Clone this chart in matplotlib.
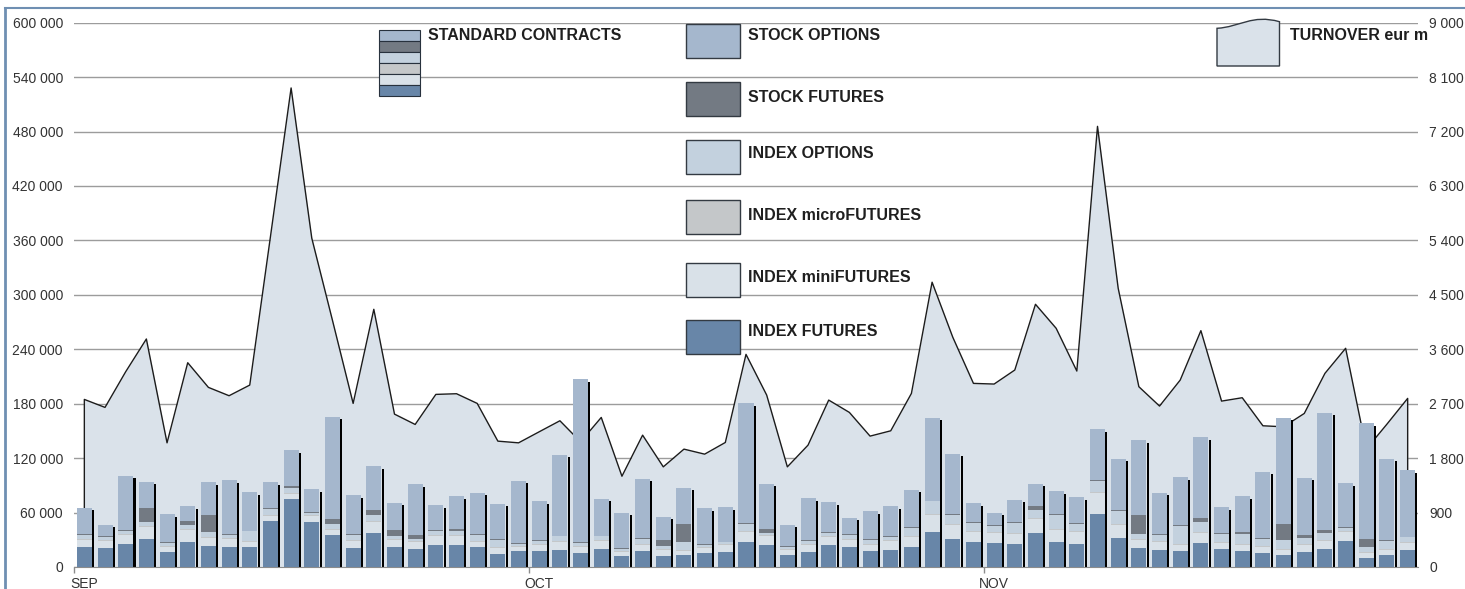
import matplotlib
matplotlib.use("Agg")
import matplotlib.pyplot as plt
import numpy as np
from matplotlib.patches import Rectangle, PathPatch
from matplotlib.path import Path
from matplotlib.ticker import FuncFormatter

plt.rcParams["font.family"] = ["Liberation Sans", "DejaVu Sans"]

# daily contracts, thousands (Sep-Nov, 65 trading days)
months = ["SEP", "OCT", "NOV"]
month_start = [0, 22, 44]

idx_fut = [22.1, 21.3, 25.8, 31.3, 16.2, 28.0, 23.2, 21.7, 21.7, 50.4, 75.5,
           49.7, 35.0, 21.0, 37.5, 21.7, 19.5, 23.9, 23.9, 22.1, 14.7,
           17.3, 17.3, 18.4, 15.5, 19.5, 11.8, 17.3, 11.8, 12.9, 15.5, 16.9,
           27.6, 24.7, 13.6, 16.6, 23.9, 22.1, 17.3, 19.1, 22.1, 38.6, 31.3,
           27.2, 26.5, 25.0, 37.5, 28.0, 25.8, 58.1, 32.4, 21.0, 18.4,
           17.3, 26.5, 20.2, 17.7, 15.5, 13.6, 16.6, 20.2, 28.3, 10.3, 13.6, 18.4]
idx_mini = [8.0, 7.7, 9.9, 12.5, 5.9, 12.9, 8.8, 8.8, 5.5, 5.5, 5.2,
            6.6, 6.3, 8.1, 12.1, 8.5, 8.1, 10.7, 10.7, 5.2, 6.3,
            4.8, 7.4, 8.8, 6.3, 8.8, 4.8, 6.6, 7.4, 5.2, 5.5, 7.0,
            11.0, 9.2, 5.5, 8.1, 8.8, 8.1, 7.4, 9.2, 10.7, 19.1, 14.7,
            11.4, 11.0, 11.4, 15.8, 12.5, 12.9, 23.6, 13.6, 9.2, 8.8,
            7.4, 11.0, 6.3, 6.3, 6.3, 5.5, 8.1, 8.8, 10.3, 5.2, 5.5, 7.7]
idx_micro = [1.0, 1.0, 1.0, 1.0, 1.0, 1.0, 1.0, 1.0, 1.0, 1.0, 1.0,
             0.8, 1.0, 1.0, 1.0, 1.0, 1.0, 1.0, 1.0, 1.0, 1.0,
             0.8, 1.0, 1.0, 1.0, 1.0, 1.0, 1.0, 1.0, 1.0, 1.0, 1.0,
             1.0, 1.0, 1.0, 1.0, 1.0, 1.0, 1.0, 1.0, 1.0, 1.0, 1.0,
             1.0, 1.0, 1.0, 1.0, 1.0, 1.0, 1.0, 1.0, 1.0, 1.0,
             1.0, 1.0, 1.0, 1.0, 1.0, 1.0, 1.0, 1.0, 1.0, 1.0, 1.0, 1.0]
idx_opt = [4.4, 3.3, 3.3, 4.8, 3.3, 4.4, 5.5, 4.0, 11.0, 6.6, 5.2,
           2.0, 4.8, 5.5, 6.3, 3.3, 2.6, 4.0, 4.0, 7.4, 8.1,
           2.6, 3.3, 5.5, 3.3, 4.4, 2.2, 6.3, 2.9, 8.5, 2.6, 2.2,
           7.7, 2.9, 1.5, 2.6, 3.7, 3.7, 4.4, 3.7, 9.2, 13.6, 10.7,
           8.8, 6.3, 11.0, 8.1, 16.2, 7.7, 11.8, 14.4, 5.5, 7.4,
           19.1, 11.0, 8.8, 11.8, 8.1, 9.9, 6.6, 7.7, 3.3, 5.5, 8.8, 5.5]
stk_fut = [1.0, 1.0, 1.0, 15.8, 1.0, 4.0, 19.1, 1.0, 1.0, 1.0, 2.2,
           1.1, 6.3, 1.0, 5.5, 5.9, 3.7, 1.5, 2.6, 1.0, 1.0,
           1.0, 1.0, 1.0, 1.0, 1.0, 1.0, 1.0, 6.3, 20.2, 1.0, 1.0,
           1.0, 4.4, 1.0, 1.0, 1.0, 1.0, 1.0, 1.0, 1.0, 1.0, 1.0,
           1.0, 1.0, 1.0, 4.4, 1.0, 1.0, 1.0, 1.0, 20.2, 1.0,
           1.0, 4.4, 1.0, 1.8, 1.0, 17.7, 2.6, 3.3, 1.0, 8.5, 1.0, 1.0]
stk_opt = [28.7, 12.1, 59.6, 28.7, 30.9, 16.6, 35.7, 58.9, 42.3, 29.0, 39.8,
           25.8, 112.2, 42.3, 48.9, 30.2, 56.3, 26.9, 35.7, 45.3, 38.6,
           68.4, 42.7, 89.1, 179.6, 40.5, 39.0, 65.1, 25.8, 39.4, 39.4, 37.5,
           132.5, 49.7, 23.9, 46.7, 33.1, 18.4, 30.5, 32.8, 41.2, 91.3, 66.2,
           21.0, 14.0, 25.0, 25.0, 24.7, 28.7, 56.3, 57.0, 82.8, 45.3,
           53.4, 89.4, 28.7, 39.4, 72.9, 116.7, 63.3, 129.2, 48.6, 127.7, 89.4, 73.2]

# turnover, eur m
turnover = [2771, 2639, 3229, 3770, 2053, 3378, 2970, 2832, 3008, 5460, 7921,
            5437, 4079, 2705, 4261, 2528, 2357, 2854, 2865, 2705, 2081,
            2053, 2236, 2418, 2070, 2473, 1501, 2180, 1656, 1949, 1866, 2059,
            3516, 2843, 1656, 2015, 2760, 2556, 2164, 2252, 2870, 4709, 3800,
            3036, 3025, 3257, 4344, 3947, 3240, 7286, 4609, 2981, 2661,
            3091, 3908, 2743, 2799, 2335, 2318, 2539, 3202, 3616, 1950, 2363, 2788]

names = ["INDEX FUTURES", "INDEX miniFUTURES", "INDEX microFUTURES",
         "INDEX OPTIONS", "STOCK FUTURES", "STOCK OPTIONS"]
series = [idx_fut, idx_mini, idx_micro, idx_opt, stk_fut, stk_opt]
cols = ["#6886a8", "#d9e1e8", "#c4c7c9", "#c3d1de", "#737a83", "#a5b7cd"]
area_c = "#dae2ea"
txt_c = "#333333"
grid_c = "#9c9c9c"

W, H = 1465, 589
fig = plt.figure(figsize=(W / 100, H / 100), dpi=100)
ax = fig.add_axes([74 / W, 22 / H, (1418 - 74) / W, (566.3 - 22) / H])
ax2 = ax.twinx()
ax.set_zorder(2)
ax2.set_zorder(1)
ax.patch.set_visible(False)

x = np.arange(len(turnover))
tv = np.array(turnover, dtype=float)

# turnover area (right scale) with grid below it
ax2.fill_between(x, tv, 0, color=area_c, lw=0, zorder=1)
ax2.plot(np.r_[x[0], x, x[-1]], np.r_[0, tv, 0], color="#1c1c1c", lw=1.0, zorder=2)
ax2.set_ylim(0, 9000)
ax2.set_yticks(np.arange(0, 9001, 900))
ax2.set_axisbelow(True)
ax2.yaxis.grid(True, color=grid_c, lw=1.0)
ax2.yaxis.set_major_formatter(FuncFormatter(lambda v, p: f"{int(v):,}".replace(",", " ")))
ax2.tick_params(axis="y", length=0, pad=8, labelsize=10, labelcolor=txt_c)
for s in ax2.spines.values():
    s.set_visible(False)

# stacked bars with dark shadow on the right
tot = np.sum([np.array(s) for s in series], axis=0) * 1000
ax.bar(x + 0.426, tot - 2800, width=0.097, color="black", lw=0, zorder=2)
bot = np.zeros(len(x))
for s, c in zip(series, cols):
    v = np.array(s) * 1000
    ax.bar(x, v, width=0.726, bottom=bot, color=c, lw=0, zorder=3)
    bot += v

ax.set_xlim(-0.5, len(x) - 0.5)
ax.set_ylim(0, 600000)
ax.set_yticks(np.arange(0, 600001, 60000))
ax.yaxis.set_major_formatter(FuncFormatter(lambda v, p: f"{int(v):,}".replace(",", " ")))
ax.tick_params(axis="y", length=0, pad=8, labelsize=10, labelcolor=txt_c)
ax.set_xticks(np.array(month_start) - 0.5)
ax.set_xticklabels([])
ax.set_xticks(month_start, minor=True)
ax.set_xticklabels(months, minor=True)
ax.tick_params(axis="x", which="major", length=4, width=1, color="#8c8c8c")
ax.tick_params(axis="x", which="minor", length=0, pad=7, labelsize=10, labelcolor=txt_c)
for k in ["top", "left", "right"]:
    ax.spines[k].set_visible(False)
ax.spines["bottom"].set_color("#8c8c8c")

# overlay in pixel units for the legend and frame
ov = fig.add_axes([0, 0, 1, 1])
ov.set_xlim(0, W)
ov.set_ylim(H, 0)
ov.axis("off")
ov.set_zorder(10)

ov.plot([5, W], [8, 8], color="#6f8fb2", lw=1.5)
ov.plot([5, 5], [8, H], color="#6f8fb2", lw=2)

fs = 11.5
# standard contracts stacked swatch
sh = 11
for k, c in enumerate(reversed(cols)):
    ov.add_patch(Rectangle((379, 30 + k * sh), 41, sh, facecolor=c, edgecolor="#27313d", lw=0.8))
ov.text(428, 35, "STANDARD CONTRACTS", fontsize=fs, fontweight="bold", color="#1f1f1f", va="center")

# one swatch per contract type
boxes = [(24, 35), (82, 97), (140, 154), (200, 216), (263, 277), (320, 331)]
for (y0, ty), n, c in zip(boxes, reversed(names), reversed(cols)):
    ov.add_patch(Rectangle((686, y0), 54, 34, facecolor=c, edgecolor="#333a42", lw=1))
    ov.text(748, ty, n, fontsize=fs, fontweight="bold", color="#1f1f1f", va="center")

# turnover swatch with a wavy top
verts = [(1217, 66), (1217, 28.3), (1240, 27), (1252, 14), (1279.5, 21.7), (1279.5, 66), (1217, 66)]
codes = [Path.MOVETO, Path.LINETO, Path.CURVE4, Path.CURVE4, Path.CURVE4, Path.LINETO, Path.CLOSEPOLY]
ov.add_patch(PathPatch(Path(verts, codes), facecolor=area_c, edgecolor="#333a42", lw=1))
ov.text(1290, 36, "TURNOVER eur m", fontsize=fs, fontweight="bold", color="#1f1f1f", va="center")

fig.savefig("out.png", dpi=100)
